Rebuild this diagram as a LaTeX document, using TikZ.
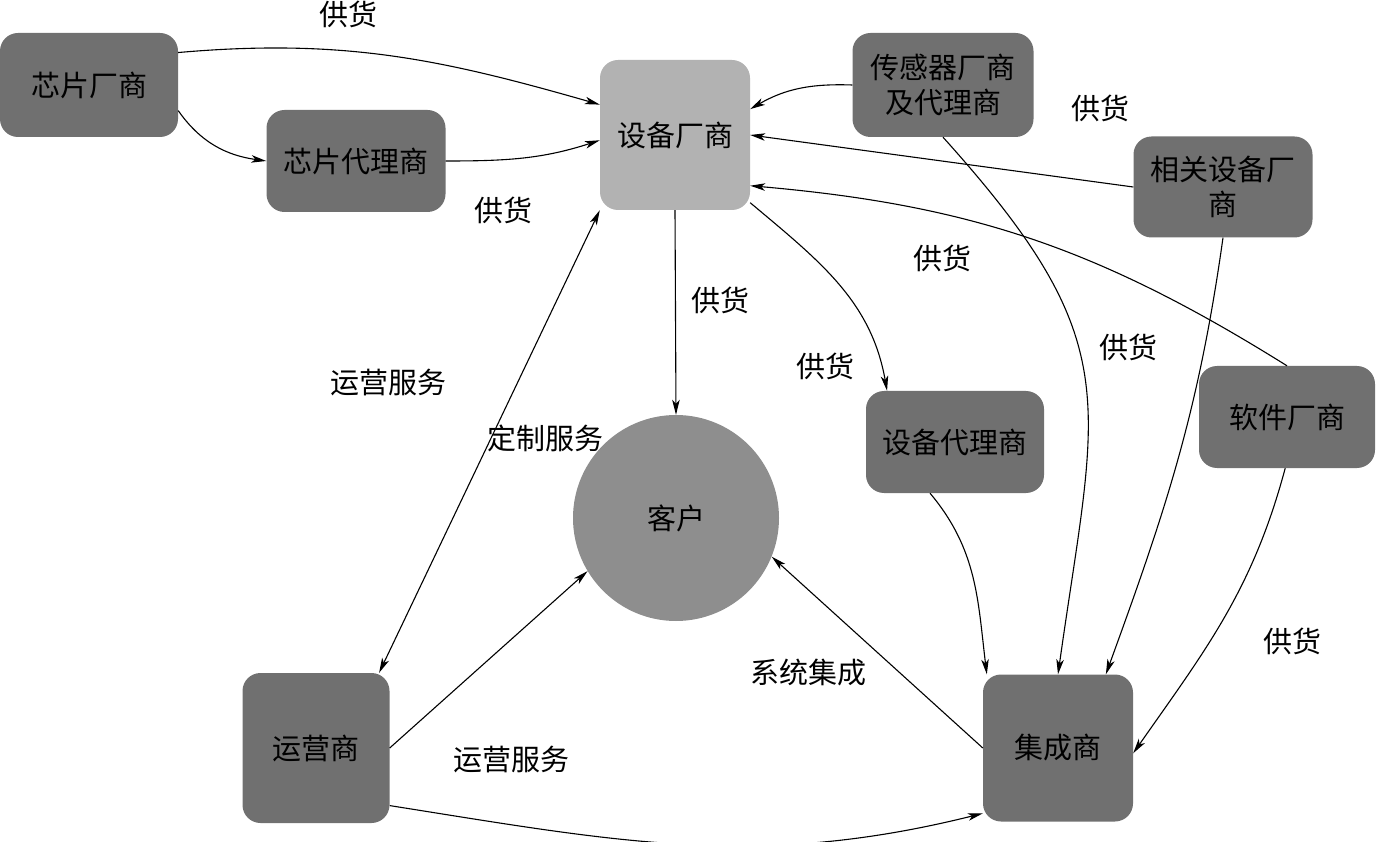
\documentclass[tikz,border=0pt]{standalone}
\usepackage{fontspec}
\newfontfamily\cjk{Noto Sans CJK SC}
\usetikzlibrary{arrows.meta}
\definecolor{nodedark}{HTML}{707070}
\definecolor{nodelight}{HTML}{B2B2B2}
\definecolor{nodemid}{HTML}{8E8E8E}
\begin{document}
\begin{tikzpicture}[x=1pt,y=1pt,
  every node/.style={font=\cjk\fontsize{29}{35}\selectfont, text=black},
  box/.style={rectangle, rounded corners=18pt, fill=nodedark, inner sep=0pt, align=center},
  devbox/.style={box, fill=nodelight},
  lbl/.style={inner sep=0pt},
  conn/.style={line width=1.1pt, -{Stealth[length=15pt,width=7.5pt,inset=4pt]}},
  conn2/.style={line width=1.1pt, {Stealth[length=15pt,width=7.5pt,inset=4pt]}-{Stealth[length=15pt,width=7.5pt,inset=4pt]}}
]
\useasboundingbox (0,0) rectangle (1377,-842);
\begin{scope}
\clip (0,0) rectangle (1377,-842);
% nodes
\node[box, minimum width=178pt, minimum height=104pt] (chip) at (89,-85) {芯片厂商};
\node[box, minimum width=179pt, minimum height=102pt] (chipag) at (356,-161) {芯片代理商};
\node[devbox, minimum width=150pt, minimum height=150pt] (dev) at (675,-135) {设备厂商};
\node[box, minimum width=181pt, minimum height=104pt] (sensor) at (943,-85) {传感器厂商\\及代理商};
\node[box, minimum width=179pt, minimum height=101pt] (rel) at (1223,-187) {相关设备厂\\商};
\node[box, minimum width=176pt, minimum height=102pt] (soft) at (1287,-417) {软件厂商};
\node[box, minimum width=178pt, minimum height=102pt] (devag) at (955,-442) {设备代理商};
\node[circle, fill=nodemid, minimum size=206pt, inner sep=0pt] (client) at (676,-518) {客户};
\node[box, minimum width=147pt, minimum height=150pt] (opr) at (316,-748) {运营商};
\node[box, minimum width=150pt, minimum height=147pt] (integ) at (1058,-748) {集成商};
% connectors
\draw[conn] (chip.20) to[out=5,in=164] (dev.158);
\draw[conn] (chip.-16) to[out=-55,in=172] (chipag.west);
\draw[conn] (chipag.east) to[out=0,in=-162] (dev.184);
\draw[conn] (sensor.west) to[out=178,in=30] (dev.19);
\draw[conn] (rel.west) -- (dev.east);
\draw[conn] (soft.north) to[out=148,in=-5] (dev.-34);
\draw[conn] (dev.south) -- (client.north);
\draw[conn] (dev.-42) to[out=-40,in=100] (devag.143);
\draw[conn2] (dev.-135) -- (opr.50);
\draw[conn] (opr.east) -- (client.211);
\draw[conn] (integ.west) -- (client.-22);
\draw[conn] (opr.-38) to[out=-9,in=-166] (integ.-139.5);
\draw[conn] (devag.-116) to[out=-50,in=97] (integ.134);
\draw[conn] (sensor.south) to[out=-48,in=82,looseness=1.3] (integ.north);
\draw[conn] (rel.south) to[out=-98,in=70] (integ.57);
\draw[conn] (soft.-92) to[out=-105,in=55] (integ.-4);
% labels
\node[lbl] (l1) at (348,-14) {供货};
\node[lbl] (l2) at (503,-210) {供货};
\node[lbl] (l3) at (1100,-108) {供货};
\node[lbl] (l4) at (942,-258) {供货};
\node[lbl] (l5) at (720,-300) {供货};
\node[lbl] (l6) at (825,-366) {供货};
\node[lbl] (l7) at (1128,-347) {供货};
\node[lbl] (l8) at (1292,-641) {供货};
\node[lbl] (l9) at (388,-383) {运营服务};
\node[lbl] (l10) at (545,-438) {定制服务};
\node[lbl] (l11) at (511,-760) {运营服务};
\node[lbl] (l12) at (808,-673) {系统集成};
\end{scope}
\end{tikzpicture}
\end{document}
